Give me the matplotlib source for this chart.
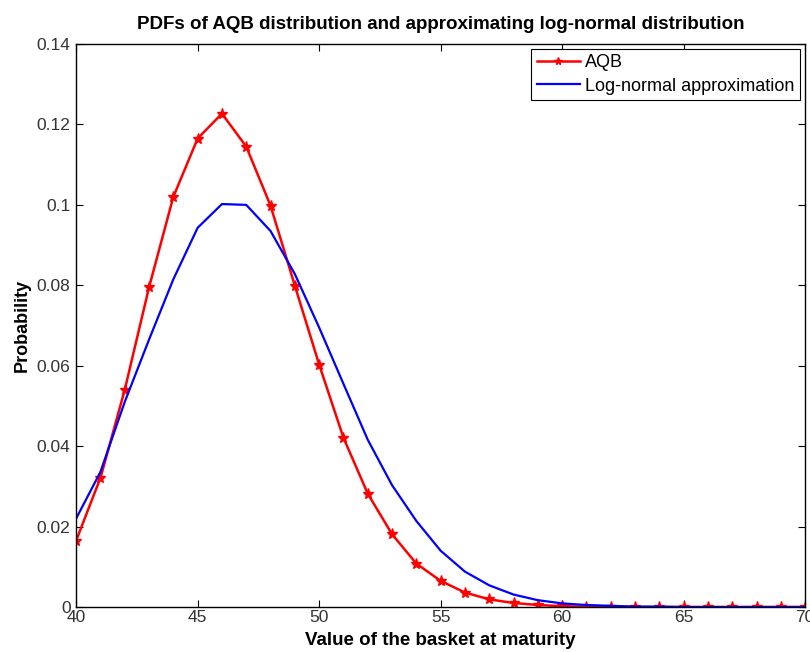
#!/usr/bin/env python3
"""
PDFs of AQB distribution vs. the approximating log-normal distribution.
Values read off the reference chart (integer basket values 40..70).
"""

import matplotlib
matplotlib.use("Agg")
import matplotlib.pyplot as plt
from matplotlib.ticker import FuncFormatter

# ================================
# Data
# ================================

basket_values = list(range(40, 71))

aqb_pdf = [
    0.0165, 0.0321, 0.0540, 0.0795, 0.1020, 0.1165, 0.1227, 0.1145,
    0.0998, 0.0799, 0.0603, 0.0421, 0.0282, 0.0181, 0.0108, 0.0065,
    0.0036, 0.0019, 0.0010, 0.0005, 0.0002, 0.0001, 0.0001, 0.0,
    0.0, 0.0, 0.0, 0.0, 0.0, 0.0, 0.0,
]

lognormal_pdf = [
    0.0220, 0.0336, 0.0510, 0.0665, 0.0815, 0.0943, 0.1002, 0.1000,
    0.0935, 0.0828, 0.0695, 0.0555, 0.0416, 0.0303, 0.0214, 0.0140,
    0.0088, 0.0054, 0.0031, 0.0017, 0.0009, 0.0005, 0.0003, 0.0001,
    0.0001, 0.0, 0.0, 0.0, 0.0, 0.0, 0.0,
]

x_ticks = [40, 45, 50, 55, 60, 65, 70]
y_ticks = [0, 0.02, 0.04, 0.06, 0.08, 0.1, 0.12, 0.14]

# ================================
# Plot
# ================================

plt.rcParams["font.family"] = ["Liberation Sans", "DejaVu Sans"]

fig = plt.figure(figsize=(8.1, 6.52), dpi=100)
ax = fig.add_axes([0.094, 0.069, 0.900, 0.8635])

ax.plot(basket_values, aqb_pdf, color="#ff0000", linewidth=1.8,
        marker="*", markersize=8, label="AQB")
ax.plot(basket_values, lognormal_pdf, color="#0000ff", linewidth=1.6,
        label="Log-normal approximation")

ax.set_xlim(40, 70)
ax.set_ylim(0, 0.14)
ax.set_xticks(x_ticks)
ax.set_yticks(y_ticks)
ax.yaxis.set_major_formatter(FuncFormatter(lambda v, _: f"{v:g}"))

ax.tick_params(direction="in", top=True, right=True, length=5,
               labelsize=12.5, labelcolor="#333333")
ax.tick_params(axis="x", pad=2)
ax.tick_params(axis="y", pad=4)
for spine in ax.spines.values():
    spine.set_linewidth(1.0)

ax.set_title("PDFs of AQB distribution and approximating log-normal distribution",
             fontsize=13.5, fontweight="bold", pad=11)
ax.set_xlabel("Value of the basket at maturity", fontsize=13.5,
              fontweight="bold", labelpad=5)
ax.set_ylabel("Probability", fontsize=13, fontweight="bold", labelpad=4)

leg = ax.legend(loc="upper right", fontsize=13, fancybox=False,
                framealpha=1, edgecolor="black", borderaxespad=0.28,
                handlelength=2.4, borderpad=0.3, labelspacing=0.35,
                handletextpad=0.3, markerscale=0.7)
leg.get_frame().set_linewidth(0.8)

fig.savefig("out.png", dpi=100)
